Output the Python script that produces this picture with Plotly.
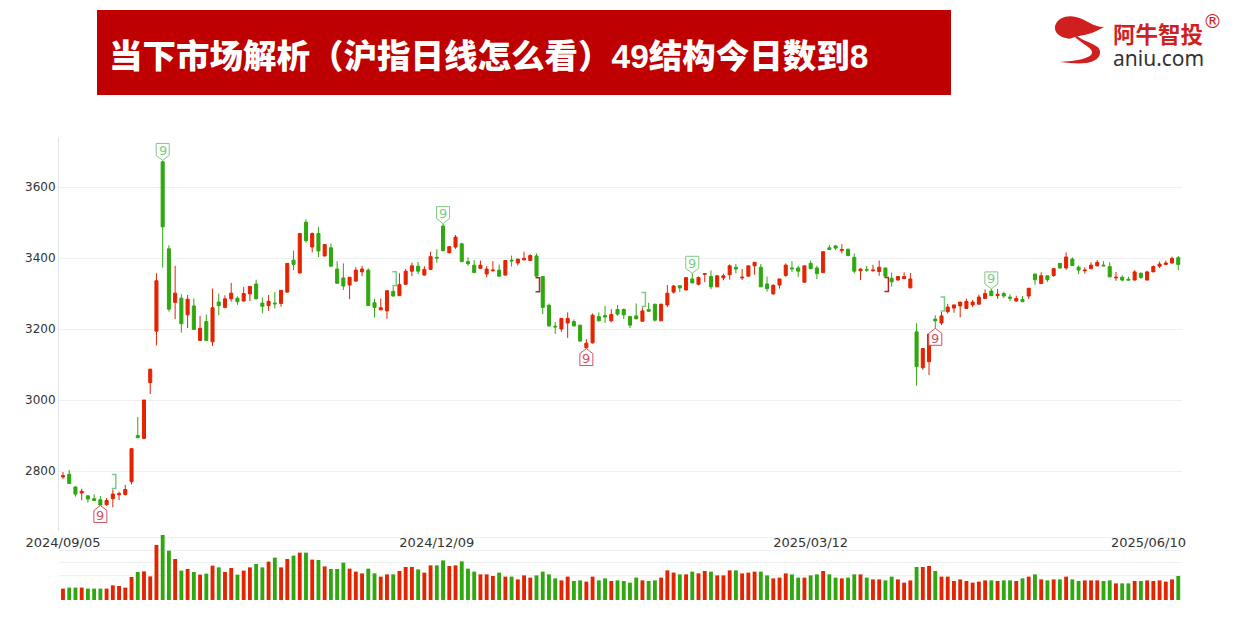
import plotly.graph_objects as go

W = 1242
H = 618

# candles (price scale)
opens = [2783, 2791, 2755, 2738, 2730, 2722, 2719, 2705, 2722, 2733,
         2734, 2770, 2900, 2892, 3049, 3194, 3671, 3426, 3275, 3287,
         3240, 3265, 3168, 3221, 3164, 3276, 3261, 3285, 3287, 3279,
         3299, 3327, 3273, 3266, 3273, 3272, 3304, 3394, 3358, 3501,
         3431, 3469, 3406, 3429, 3369, 3344, 3324, 3335, 3361, 3366,
         3274, 3254, 3251, 3306, 3294, 3326, 3363, 3377, 3352, 3368,
         3402, 3490, 3415, 3431, 3440, 3390, 3380, 3371, 3355, 3364,
         3366, 3352, 3394, 3386, 3395, 3393, 3406, 3348, 3267, 3208,
         3200, 3217, 3221, 3211, 3147, 3161, 3235, 3238, 3223, 3255,
         3255, 3235, 3237, 3222, 3255, 3270, 3223, 3268, 3304, 3322,
         3310, 3341, 3326, 3354, 3348, 3319, 3344, 3353, 3374, 3344,
         3349, 3378, 3374, 3327, 3299, 3324, 3351, 3372, 3372, 3332,
         3385, 3372, 3359, 3429, 3434, 3421, 3425, 3402, 3364, 3368,
         3364, 3362, 3372, 3343, 3338, 3342, 3316, 3192, 3091, 3108,
         3228, 3217, 3249, 3259, 3265, 3258, 3268, 3270, 3286, 3307,
         3294, 3300, 3290, 3279, 3283, 3293, 3355, 3328, 3350, 3351,
         3385, 3372, 3397, 3374, 3364, 3370, 3378, 3380, 3376, 3344,
         3346, 3340, 3338, 3357, 3338, 3361, 3377, 3382, 3386, 3401]
closes = [2787, 2765, 2735, 2743, 2721, 2717, 2704, 2717, 2735, 2736,
          2748, 2863, 2894, 3000, 3087, 3336, 3488, 3256, 3301, 3215,
          3284, 3199, 3202, 3168, 3260, 3266, 3285, 3301, 3277, 3300,
          3320, 3285, 3264, 3278, 3271, 3309, 3385, 3382, 3469, 3449,
          3469, 3420, 3438, 3377, 3329, 3321, 3346, 3366, 3369, 3266,
          3261, 3260, 3308, 3293, 3325, 3363, 3378, 3363, 3368, 3404,
          3400, 3421, 3432, 3459, 3390, 3384, 3359, 3380, 3369, 3366,
          3349, 3393, 3392, 3397, 3399, 3407, 3349, 3261, 3209, 3206,
          3230, 3230, 3209, 3166, 3160, 3239, 3223, 3234, 3241, 3242,
          3240, 3211, 3229, 3251, 3250, 3225, 3270, 3301, 3321, 3316,
          3345, 3330, 3345, 3356, 3319, 3350, 3350, 3378, 3369, 3346,
          3378, 3388, 3319, 3314, 3323, 3341, 3380, 3370, 3363, 3378,
          3370, 3356, 3418, 3424, 3428, 3424, 3407, 3363, 3369, 3366,
          3366, 3374, 3349, 3333, 3348, 3348, 3341, 3094, 3145, 3186,
          3223, 3237, 3262, 3268, 3276, 3278, 3276, 3290, 3300, 3294,
          3298, 3293, 3287, 3286, 3277, 3315, 3339, 3350, 3339, 3370,
          3372, 3403, 3379, 3366, 3366, 3380, 3388, 3378, 3347, 3346,
          3338, 3338, 3361, 3345, 3361, 3376, 3383, 3386, 3399, 3382]
highs = [2797, 2803, 2757, 2750, 2731, 2734, 2729, 2724, 2748, 2742,
         2761, 2864, 2952, 3000, 3087, 3357, 3675, 3436, 3378, 3298,
         3296, 3286, 3237, 3241, 3314, 3300, 3295, 3330, 3292, 3318,
         3320, 3339, 3289, 3296, 3304, 3309, 3385, 3421, 3469, 3509,
         3472, 3487, 3440, 3441, 3391, 3385, 3346, 3374, 3378, 3371,
         3285, 3286, 3308, 3319, 3357, 3369, 3387, 3389, 3377, 3418,
         3425, 3497, 3434, 3465, 3442, 3402, 3394, 3393, 3377, 3391,
         3382, 3393, 3407, 3398, 3418, 3411, 3413, 3349, 3272, 3220,
         3230, 3247, 3227, 3211, 3172, 3244, 3247, 3265, 3256, 3268,
         3258, 3235, 3272, 3261, 3274, 3270, 3270, 3324, 3324, 3324,
         3345, 3357, 3348, 3356, 3365, 3351, 3356, 3382, 3383, 3369,
         3378, 3388, 3383, 3348, 3326, 3341, 3385, 3391, 3378, 3378,
         3393, 3378, 3418, 3437, 3437, 3439, 3426, 3413, 3371, 3378,
         3381, 3393, 3373, 3359, 3349, 3360, 3358, 3216, 3145, 3186,
         3239, 3248, 3271, 3268, 3276, 3286, 3282, 3297, 3312, 3313,
         3313, 3305, 3298, 3294, 3293, 3315, 3355, 3360, 3350, 3372,
         3385, 3416, 3402, 3379, 3374, 3388, 3394, 3391, 3388, 3361,
         3351, 3347, 3366, 3360, 3364, 3379, 3390, 3393, 3404, 3406]
lows = [2778, 2765, 2728, 2718, 2711, 2716, 2703, 2702, 2698, 2718,
        2731, 2762, 2892, 2890, 3017, 3154, 3373, 3249, 3228, 3190,
        3203, 3199, 3168, 3168, 3152, 3239, 3258, 3277, 3268, 3277,
        3279, 3284, 3244, 3251, 3258, 3263, 3302, 3366, 3356, 3443,
        3416, 3403, 3404, 3376, 3327, 3310, 3284, 3333, 3349, 3265,
        3233, 3253, 3229, 3291, 3294, 3324, 3349, 3354, 3351, 3366,
        3387, 3418, 3413, 3426, 3388, 3378, 3358, 3369, 3346, 3362,
        3348, 3351, 3376, 3379, 3393, 3392, 3347, 3242, 3206, 3186,
        3192, 3175, 3206, 3165, 3145, 3159, 3222, 3217, 3219, 3237,
        3228, 3203, 3227, 3221, 3248, 3221, 3223, 3262, 3300, 3304,
        3309, 3329, 3323, 3332, 3312, 3318, 3337, 3339, 3357, 3338,
        3348, 3353, 3318, 3305, 3297, 3314, 3347, 3361, 3347, 3331,
        3369, 3341, 3358, 3423, 3423, 3413, 3405, 3357, 3338, 3361,
        3362, 3350, 3348, 3319, 3337, 3341, 3315, 3040, 3085, 3070,
        3202, 3211, 3244, 3246, 3233, 3257, 3262, 3269, 3285, 3293,
        3285, 3287, 3279, 3277, 3276, 3285, 3325, 3327, 3333, 3347,
        3370, 3367, 3378, 3355, 3356, 3369, 3377, 3378, 3346, 3336,
        3334, 3337, 3337, 3342, 3337, 3361, 3372, 3380, 3384, 3366]
volumes = [91, 99, 99, 99, 91, 91, 91, 91, 117, 112,
           99, 184, 224, 229, 189, 440, 523, 395, 328, 235,
           248, 224, 203, 211, 275, 261, 224, 256, 203, 235,
           261, 288, 261, 307, 339, 261, 328, 355, 379, 379,
           323, 320, 269, 248, 248, 299, 251, 227, 213, 251,
           213, 187, 205, 205, 232, 264, 264, 245, 219, 277,
           277, 317, 272, 277, 309, 251, 227, 205, 205, 192,
           219, 187, 187, 165, 197, 179, 197, 227, 205, 173,
           157, 187, 152, 157, 147, 187, 157, 173, 152, 157,
           152, 139, 179, 157, 152, 157, 179, 237, 219, 205,
           205, 227, 213, 232, 227, 197, 197, 237, 237, 213,
           219, 227, 227, 197, 173, 179, 213, 205, 179, 179,
           197, 205, 232, 205, 179, 173, 179, 205, 205, 179,
           165, 165, 157, 187, 165, 139, 157, 264, 264, 272,
           232, 187, 187, 152, 165, 152, 139, 147, 157, 157,
           152, 157, 157, 152, 173, 187, 205, 165, 157, 165,
           165, 187, 165, 152, 157, 157, 157, 152, 157, 133,
           133, 133, 152, 152, 157, 152, 157, 147, 165, 192]

price_ticks = [2800, 3000, 3200, 3400, 3600]
volume_grid = [200, 300, 400, 500]
date_ticks = [0, 60, 120]
date_labels = ['2024/09/05', '2024/12/09', '2025/03/12']
last_date = '2025/06/10'

# markers on the candles
nine_top = [16, 61, 101, 149]
nine_bottom = [6, 84, 140]
bracket_top = [8, 53, 93, 141]
bracket_bottom = [76, 132]

TITLE = '当下市场解析（沪指日线怎么看）49结构今日数到8'

RED = '#e32400'
GREEN = '#2fa80f'
TAG_GREEN = '#7ccb86'
TAG_RED = '#d4505c'
GRID = '#eef0f4'
TEXT = '#333333'
LABEL_FONT = 'Liberation Sans, Noto Sans CJK SC'


def px(x):
    return x / W


def py(y):
    return 1 - y / H


days = list(range(len(opens)))
vol_colors = [RED if c >= o else GREEN for o, c in zip(opens, closes)]

fig = go.Figure()
fig.add_trace(go.Candlestick(
    x=days, open=opens, high=highs, low=lows, close=closes,
    increasing=dict(line=dict(color=RED, width=1), fillcolor=RED),
    decreasing=dict(line=dict(color=GREEN, width=1), fillcolor=GREEN),
    showlegend=False, hoverinfo='skip',
))
fig.add_trace(go.Bar(
    x=days, y=volumes, xaxis='x2', yaxis='y2', marker_color=vol_colors,
    marker_line_width=0, width=0.62, showlegend=False, hoverinfo='skip',
))

shapes = []
annotations = []

# banner
shapes.append(dict(type='rect', xref='paper', yref='paper', x0=px(97), x1=px(951),
                   y0=py(95), y1=py(10), fillcolor='#bf0000', line_width=0, layer='below'))
annotations.append(dict(text=TITLE, xref='paper', yref='paper',
                        x=px(107), y=py(56), xanchor='left', yanchor='middle', showarrow=False,
                        font=dict(family=LABEL_FONT, size=33.5, weight=900, color='white')))


def tag(i, price, above, color):
    # pixel paths: y goes up here
    if above:
        path = 'M 0 0 L 6.5 5 L 6.5 17 L -6.5 17 L -6.5 5 Z'
        shift = 10
    else:
        path = 'M 0 0 L 6.5 -5 L 6.5 -17 L -6.5 -17 L -6.5 -5 Z'
        shift = -10
    shapes.append(dict(type='path', xref='x', yref='y', xsizemode='pixel', ysizemode='pixel',
                       xanchor=i, yanchor=price, path=path, fillcolor='white',
                       line=dict(color=color, width=1)))
    annotations.append(dict(text='9', xref='x', yref='y', x=i, y=price, yshift=shift,
                            showarrow=False, font=dict(family='DejaVu Sans', size=13, color=color)))


def bracket(i, price, above, color):
    if above:
        path = 'M -1 15 L 3 15 L 3 1 L -1 1'
    else:
        path = 'M -1 -1 L 3 -1 L 3 -15 L -1 -15'
    shapes.append(dict(type='path', xref='x', yref='y', xsizemode='pixel', ysizemode='pixel',
                       xanchor=i, yanchor=price, path=path, line=dict(color=color, width=1.5)))


for i in nine_top:
    tag(i, highs[i], True, TAG_GREEN)
for i in nine_bottom:
    tag(i, lows[i], False, TAG_RED)
for i in bracket_top:
    bracket(i, highs[i], True, TAG_GREEN)
for i in bracket_bottom:
    bracket(i, lows[i], False, '#b5202a')

# last date sits left of its candle, so not a normal tick
annotations.append(dict(text=last_date, xref='paper', yref='paper', x=px(1188), y=py(542),
                        xanchor='right', yanchor='middle', showarrow=False,
                        font=dict(family='DejaVu Sans', size=13, color=TEXT)))

# logo
logo_body = ('M 1055 26 C 1058 17 1068 15 1076 17 C 1088 20 1092 27 1104 27 C 1096 32 1088 35 1079 36 '
             'C 1073 37 1071 40 1066 38 C 1060 37 1054 33 1055 26 Z')
logo_tail = ('M 1077 36 C 1084 42 1099 44 1100 51 C 1101 58 1094 62 1086 63 C 1078 64 1070 63 1060 62 '
             'C 1072 61 1085 60 1091 55 C 1096 49 1083 45 1075 37 Z')
for d in (logo_body, logo_tail):
    parts = d.split(' ')
    out = []
    k = 0
    while k < len(parts):
        if parts[k].isalpha():
            out.append(parts[k])
            k += 1
        else:
            out.append(f'{px(float(parts[k])):.5f},{py(float(parts[k + 1])):.5f}')
            k += 2
    shapes.append(dict(type='path', xref='paper', yref='paper', path=' '.join(out),
                       fillcolor='#cf1f1f', line_width=0))
logo_text = ('<span style="font-size:22.5px;color:#cf1f1f;font-family:Noto Sans CJK SC"><b>阿牛智投</b></span><br>'
             '<span style="font-size:21px;color:#333333;font-family:Noto Sans">aniu.com</span>')
annotations.append(dict(text=logo_text, xref='paper', yref='paper', x=px(1111), y=py(44),
                        xanchor='left', yanchor='middle', align='left', showarrow=False,
                        font=dict(family='Noto Sans', size=18, color='#333333')))
annotations.append(dict(text='®', xref='paper', yref='paper', x=px(1212), y=py(21),
                        xanchor='center', yanchor='middle', showarrow=False,
                        font=dict(family='DejaVu Sans', size=19, color='#cf1f1f')))

x_range = [-0.64, 179.6]

fig.update_layout(
    width=W, height=H, margin=dict(l=0, r=0, t=0, b=0),
    paper_bgcolor='white', plot_bgcolor='white', showlegend=False,
    shapes=shapes, annotations=annotations, bargap=0.35,
    xaxis=dict(domain=[px(59), px(1182)], range=x_range, anchor='y', automargin=False,
               rangeslider=dict(visible=False), showgrid=False, zeroline=False,
               tickmode='array', tickvals=date_ticks, ticktext=date_labels, ticks='',
               ticklabelstandoff=2,
               tickfont=dict(family='DejaVu Sans', size=13, color=TEXT)),
    yaxis=dict(domain=[py(531), py(137)], range=[2631, 3741], anchor='x', automargin=False,
               tickmode='array', tickvals=price_ticks, ticks='',
               showgrid=True, gridcolor=GRID, gridwidth=1, zeroline=False,
               showline=True, linecolor='#dde3ee', linewidth=1,
               tickfont=dict(family='DejaVu Sans', size=12, color=TEXT)),
    xaxis2=dict(domain=[px(59), px(1182)], range=x_range, anchor='y2', automargin=False,
                showgrid=False, zeroline=False, showticklabels=False, ticks=''),
    yaxis2=dict(domain=[py(600), py(535)], range=[0, 520], anchor='x2', automargin=False,
                tickmode='array', tickvals=volume_grid, showticklabels=False, ticks='',
                showgrid=True, gridcolor=GRID, gridwidth=1, zeroline=False),
)

fig.write_html("out.html", config={'displayModeBar': False},
               post_script="document.body.style.margin='0';")
